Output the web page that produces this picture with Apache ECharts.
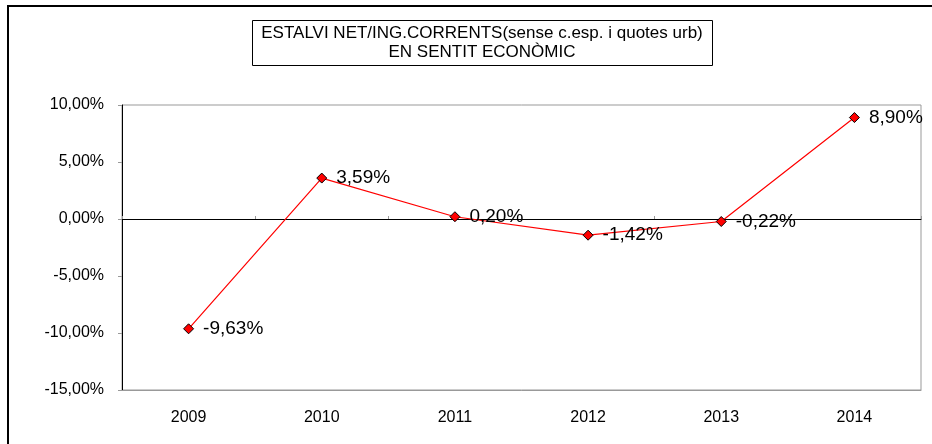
<!DOCTYPE html>
<html>
<head>
<meta charset="utf-8">
<script src="https://cdn.jsdelivr.net/npm/echarts@6/dist/echarts.min.js"></script>
<style>
html, body { margin: 0; padding: 0; background: #fff; }
#chart { width: 932px; height: 444px; }
</style>
</head>
<body>
<div id="chart"></div>
<script>
var anys = ['2009', '2010', '2011', '2012', '2013', '2014'];
var estalvi = [-9.63, 3.59, 0.20, -1.42, -0.22, 8.90];
var titol = ['ESTALVI NET/ING.CORRENTS(sense c.esp. i quotes urb)', 'EN SENTIT ECONÒMIC'];

function pct(v) {
	return v.toFixed(2).replace('.', ',') + '%';
}

var chart = echarts.init(document.getElementById('chart'));
var font = 'Liberation Sans, Arial, sans-serif';

var options = {
	animation: false,
	backgroundColor: '#fff',
	textStyle: { fontFamily: font },
	graphic: [
		// marc exterior
		{
			type: 'rect',
			shape: { x: 8, y: 6, width: 940, height: 460 },
			style: { fill: 'none', stroke: '#000', lineWidth: 2 }
		},
		{
			type: 'rect',
			shape: { x: 252.5, y: 20.5, width: 460, height: 45 },
			style: { fill: '#fff', stroke: '#000', lineWidth: 1 }
		},
		{
			type: 'text',
			x: 482, y: 43,
			style: {
				text: titol.join('\n'),
				font: '17px ' + font,
				fill: '#000',
				align: 'center',
				verticalAlign: 'middle',
				lineHeight: 19
			}
		}
	],
	grid: {
		left: 122,
		right: 11,
		top: 105,
		bottom: 54,
		outerBoundsMode: 'none',
		containLabel: false,
		show: true,
		borderColor: '#999',
		borderWidth: 1
	},
	xAxis: [{
		// eix de baix, amb les etiquetes dels anys
		type: 'category',
		data: anys,
		boundaryGap: true,
		axisLine: { onZero: false, lineStyle: { color: '#999', width: 1 } },
		axisTick: { show: false },
		axisLabel: { color: '#000', fontSize: 16, fontFamily: font, margin: 20 },
		splitLine: { show: false }
	}, {
		// línia del zero
		type: 'category',
		data: anys,
		position: 'bottom',
		boundaryGap: true,
		axisLine: { onZero: true, lineStyle: { color: '#000', width: 1 } },
		axisTick: { show: true, inside: true, length: 3, lineStyle: { color: '#999' } },
		axisLabel: { show: false },
		splitLine: { show: false }
	}],
	yAxis: {
		type: 'value',
		min: -15,
		max: 10,
		interval: 5,
		axisLine: { show: true, onZero: false, lineStyle: { color: '#000' } },
		axisTick: { show: true, length: 4, lineStyle: { color: '#999' } },
		axisLabel: { color: '#000', fontSize: 16, fontFamily: font, margin: 18, formatter: pct },
		splitLine: { show: false }
	},
	series: [{
		type: 'line',
		xAxisIndex: 0,
		data: estalvi,
		symbol: 'diamond',
		symbolSize: 10,
		itemStyle: { color: '#ff0000', borderColor: '#000', borderWidth: 1 },
		lineStyle: { color: '#ff0000', width: 1.2 },
		label: {
			show: true,
			position: 'right',
			distance: 9,
			color: '#000',
			fontSize: 19,
			fontFamily: font,
			formatter: function (p) { return pct(p.value); }
		}
	}]
};

chart.setOption(options);
</script>
</body>
</html>
